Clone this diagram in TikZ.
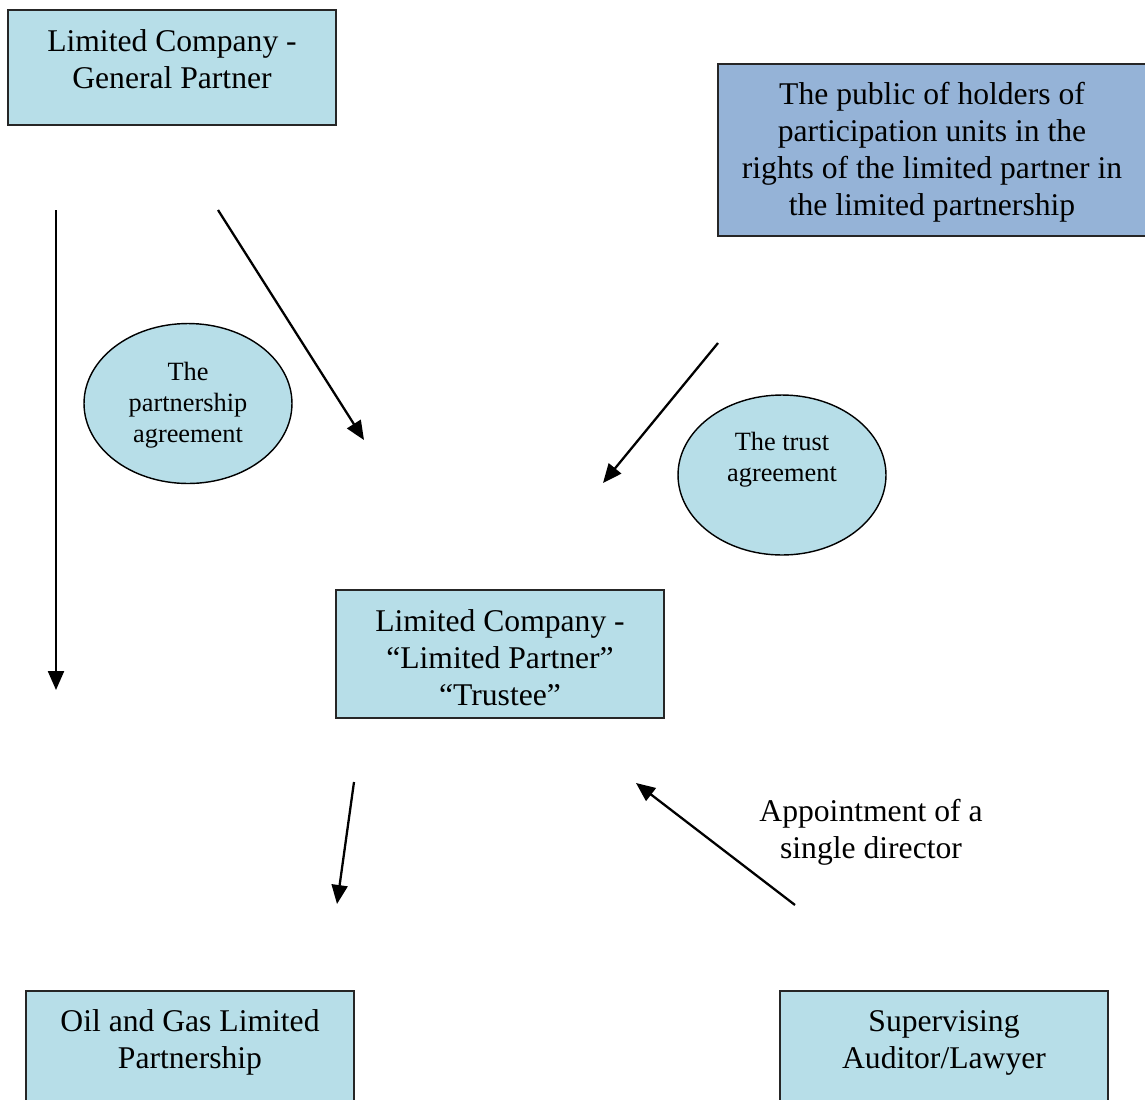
\documentclass[tikz,border=0pt]{standalone}
\usepackage{fontspec}
\setmainfont{Liberation Serif}
\usetikzlibrary{arrows.meta,shapes.geometric}
\definecolor{boxblue}{HTML}{B7DEE8}
\definecolor{pubblue}{HTML}{95B3D7}

\begin{document}
\begin{tikzpicture}[x=0.02cm,y=-0.02cm,
  box/.style={draw=black!85,line width=1pt,fill=boxblue,minimum width=6.56cm,minimum height=2.3cm},
  oval/.style={ellipse,draw,line width=0.8pt,fill=boxblue,minimum width=4.16cm,minimum height=3.2cm},
  big/.style={align=center,font=\fontsize{18}{21}\selectfont},
  small/.style={align=center,font=\fontsize{15}{17.6}\selectfont},
  arr/.style={-{Triangle[length=0.38cm,width=0.32cm]},line width=1.3pt}]
\clip (0,0) rectangle (1145,1099);
\node [box] (gp) at (172,67.5) {};
\node [big] (gptext) at (172,59.5) {Limited Company -\\General Partner};
\node [box,fill=pubblue,minimum width=8.56cm,minimum height=3.44cm] (pub) at (932,150) {};
\node [big] (pubtext) at (932,152.5)
  {The public of holders of\\participation units in the\\rights of the limited partner in\\the limited partnership};
\node [box,minimum height=2.56cm] (lp) at (500,654) {};
\node [big] (lptext) at (500,657.5) {Limited Company -\\“Limited Partner”\\“Trustee”};
\node [box] (oil) at (190,1048.5) {};
\node [big] (oiltext) at (190,1042.5) {Oil and Gas Limited\\Partnership};
\node [box] (sup) at (944,1048.5) {};
\node [big] (suptext) at (944,1042.5) {Supervising\\Auditor/Lawyer};
\node [oval] (pa) at (188,403.5) {};
\node [small] (patext) at (188,405) {The\\partnership\\agreement};
\node [oval] (ta) at (782,475) {};
\node [small] (tatext) at (782,459.5) {The trust\\agreement};
\node [big] (appt) at (871,832.5) {Appointment of a\\single director};

\coordinate (a1) at (56,210);   \coordinate (b1) at (56,690);
\coordinate (a2) at (218,210);  \coordinate (b2) at (364,440);
\coordinate (a3) at (718,343);  \coordinate (b3) at (603,483);
\coordinate (a4) at (354,782);  \coordinate (b4) at (337,904);
\coordinate (a5) at (795,905);  \coordinate (b5) at (636,783);
\foreach \i in {1,...,5}
  \draw [arr] (a\i) -- (b\i);
\end{tikzpicture}
\end{document}
